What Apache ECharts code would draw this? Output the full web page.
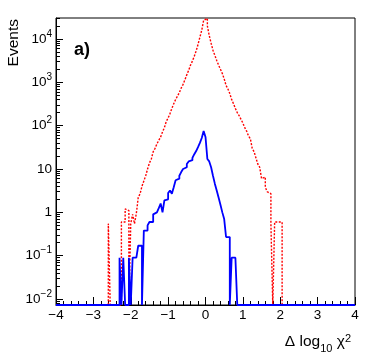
<!DOCTYPE html>
<html>
<head>
<meta charset="utf-8">
<script src="https://cdn.jsdelivr.net/npm/echarts@6/dist/echarts.min.js"></script>
<style>
html, body { margin: 0; padding: 0; background: #fff; }
#chart { width: 374px; height: 359px; }
</style>
</head>
<body>
<div id="chart"></div>
<script>
// histogram binning
const binWidth = 0.05;
const xMin = -4, xMax = 4;
const yMin = 0.0073, yMax = 30500;

// red dotted histogram, first bin starts at redStart
const redStart = -2.60;
const redCounts = [
    0.55, 0, 0, 0, 0, 0, 0, 0.6, 0.6, 1.2,          // -2.60 .. -2.15
    1.1, 0, 0.55, 0.9, 0.55, 0.95, 2.2, 2.7, 4.0, 5.3, // -2.10 .. -1.65
    7, 10, 13.8, 17, 25, 30, 38, 46, 55, 72,         // -1.60 .. -1.15
    90, 125, 150, 190, 250, 320, 400, 480, 580, 740, // -1.10 .. -0.65
    900, 1150, 1500, 1900, 2500, 3100, 4000, 5300, 7500, 11000, // -0.60 .. -0.15
    16000, 27000, 30000, 20000, 12000, 8000, 5500, 4200, 3200, 2500, // -0.10 .. 0.35
    2000, 1600, 1200, 850, 700, 550, 400, 320, 250, 200, // 0.40 .. 0.85
    170, 140, 115, 90, 75, 58, 50, 30, 25, 18,       // 0.90 .. 1.35
    13, 11, 6, 6.5, 3.8, 3.0, 2.7, 0.55, 0, 0.6,     // 1.40 .. 1.85
    0.6, 0.6, 0.6                                    // 1.90 .. 2.00
];

// blue solid histogram
const blueStart = -2.30;
const blueCounts = [
    0.09, 0, 0.09, 0, 0, 0.09, 0, 0.09, 0.09, 0.09, // -2.30 .. -1.85
    0.17, 0.17, 0, 0.38, 0.38, 0.5, 0.6, 0.6, 0.9, 1.0, // -1.80 .. -1.35
    1.1, 1.25, 1.6, 1.0, 1.9, 2.0, 2.8, 3.2, 2.7, 3.8,  // -1.30 .. -0.85
    5.5, 6.0, 7.0, 8.5, 10, 11, 13, 15, 16, 18,         // -0.80 .. -0.35
    22, 26, 32, 40, 52, 75, 55, 17, 15, 11,             // -0.30 .. 0.15
    7, 4.6, 3.2, 2.2, 1.5, 1.0, 0.7, 0.27, 0.27, 0,     // 0.20 .. 0.65
    0.09, 0.09, 0.09                                    // 0.70 .. 0.80
];

const yMajorTicks = [0.01, 0.1, 1, 10, 100, 1000, 10000];
const yMinorSteps = [2, 3, 4, 5, 6, 7, 8, 9];

window.onload = function () {
    drawChart('chart');
}

// full range histogram as step points, empty bins sit on the axis floor
function buildHist(start, counts) {
    let n = Math.round((xMax - xMin) / binWidth);
    let first = Math.round((start - xMin) / binWidth);
    let pts = [];
    for (let i = 0; i < n; i++) {
        let j = i - first;
        let v = (j >= 0 && j < counts.length && counts[j] > 0) ? counts[j] : yMin;
        pts.push([+(xMin + i * binWidth).toFixed(2), v]);
    }
    pts.push([xMax, yMin]);
    return pts;
}

function minorTicks() {
    let out = [];
    [0.001].concat(yMajorTicks).forEach(function (d) {
        yMinorSteps.forEach(function (m) {
            let v = +(d * m).toPrecision(3);
            if (v > yMin && v < yMax) out.push(v);
        });
    });
    return out;
}

function drawChart(id) {
    let chart = echarts.init(document.getElementById(id));
    let font = 'Liberation Sans';
    let black = '#000';
    let option = {
        animation: false,
        textStyle: { fontFamily: font },
        grid: {
            left: 56, right: 19, top: 18, bottom: 54,
            show: true, borderColor: black, borderWidth: 1,
            containLabel: false, outerBoundsMode: 'none'
        },
        xAxis: {
            type: 'value',
            min: xMin, max: xMax, interval: 1,
            axisLine: { onZero: false, lineStyle: { color: black } },
            axisTick: { inside: true, length: 8, lineStyle: { color: black } },
            minorTick: { show: true, splitNumber: 5, length: 4, lineStyle: { color: black } },
            splitLine: { show: false },
            axisLabel: {
                fontSize: 13.5, color: black, margin: 3,
                formatter: function (v) { return String(v).replace('-', '\u2212'); }
            }
        },
        yAxis: [
            {
                type: 'log', logBase: 10,
                min: yMin, max: yMax,
                position: 'left',
                axisLine: { show: true, onZero: false, lineStyle: { color: black } },
                axisTick: { inside: true, length: 7, customValues: yMajorTicks, lineStyle: { color: black } },
                splitLine: { show: false },
                axisLabel: {
                    customValues: yMajorTicks,
                    fontSize: 13.5, color: black, margin: 4,
                    formatter: function (v) {
                        let k = Math.round(Math.log10(v));
                        if (Math.abs(Math.log10(v) - k) > 1e-6) return '';
                        if (k === 0) return '1';
                        if (k === 1) return '10';
                        return '10{sup|' + String(k).replace('-', '\u2212') + '}';
                    },
                    rich: {
                        sup: { fontSize: 10, color: black, padding: [0, 0, 10, 0] }
                    }
                }
            },
            {
                type: 'log', logBase: 10,
                min: yMin, max: yMax,
                position: 'left',
                axisLine: { show: false, onZero: false },
                axisLabel: { show: false },
                splitLine: { show: false },
                axisTick: { inside: true, length: 4, customValues: minorTicks(), lineStyle: { color: black } }
            }
        ],
        series: [
            {
                name: 'red',
                type: 'line',
                step: 'end',
                symbol: 'none',
                data: buildHist(redStart, redCounts),
                lineStyle: { color: '#ff0000', width: 1.4, type: [2, 1.5] },
                z: 2
            },
            {
                name: 'blue',
                type: 'line',
                step: 'end',
                symbol: 'none',
                data: buildHist(blueStart, blueCounts),
                lineStyle: { color: '#0000ff', width: 1.8 },
                z: 3
            }
        ],
        graphic: [
            {
                type: 'text', x: 14, y: 19, rotation: Math.PI / 2,
                style: { text: 'Events', fontSize: 15.5, fontFamily: font, fill: black, align: 'right', verticalAlign: 'middle' }
            },
            {
                type: 'text', x: 74, y: 50,
                style: { text: 'a)', fontSize: 18, fontWeight: 'bold', fontFamily: font, fill: black, align: 'left', verticalAlign: 'middle' }
            },
            {
                type: 'text', x: 351, y: 342,
                style: {
                    text: '{m|\u0394 log}{s|10}{m| \u03c7}{p|2}',
                    align: 'right', verticalAlign: 'middle',
                    rich: {
                        m: { fontSize: 15.5, fontFamily: font, fill: black, color: black },
                        s: { fontSize: 11, fontFamily: font, fill: black, color: black, padding: [14, 0, 0, 0] },
                        p: { fontSize: 11, fontFamily: font, fill: black, color: black, padding: [0, 0, 6, 0] }
                    }
                }
            }
        ]
    };
    chart.setOption(option);
    return chart;
}
</script>
</body>
</html>
